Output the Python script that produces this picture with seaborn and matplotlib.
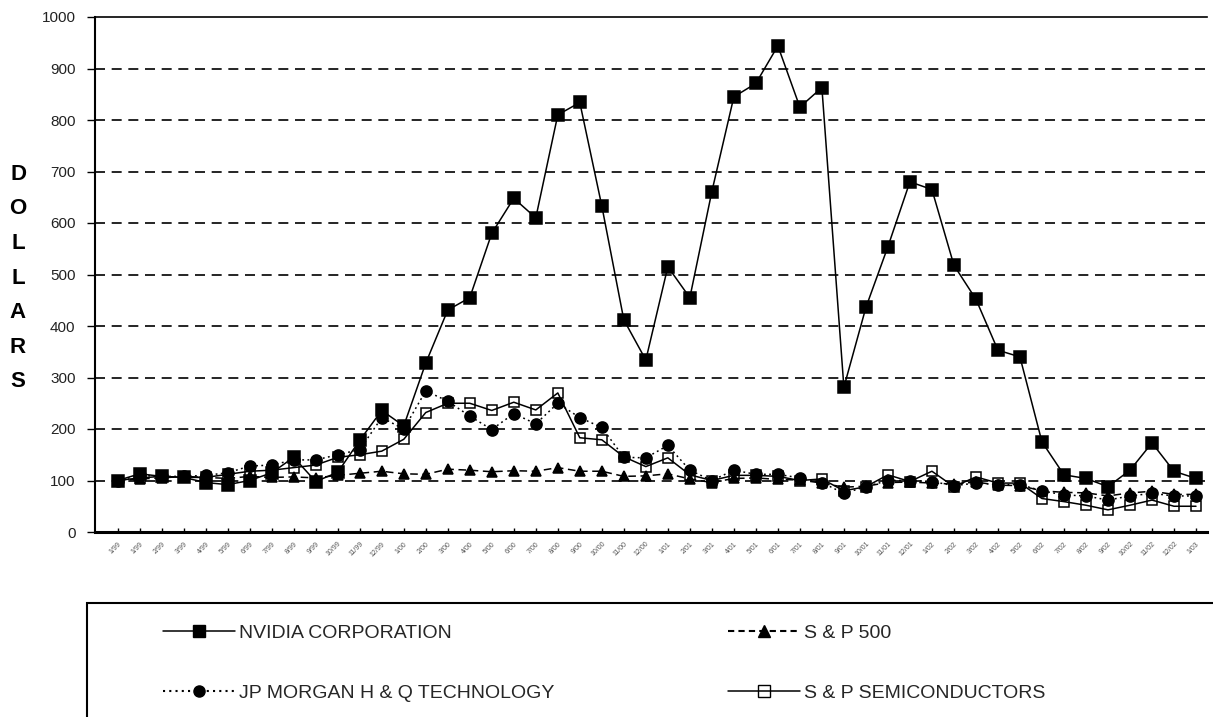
import numpy as np
import pandas as pd
import matplotlib
matplotlib.use("Agg")
import matplotlib.pyplot as plt
import seaborn as sns
from matplotlib.lines import Line2D
from matplotlib.patches import Rectangle

# ---------------- data ----------------
months = ["1/99", "1/99", "2/99", "3/99", "4/99", "5/99", "6/99", "7/99", "8/99", "9/99",
          "10/99", "11/99", "12/99", "1/00", "2/00", "3/00", "4/00", "5/00", "6/00", "7/00",
          "8/00", "9/00", "10/00", "11/00", "12/00", "1/01", "2/01", "3/01", "4/01", "5/01",
          "6/01", "7/01", "8/01", "9/01", "10/01", "11/01", "12/01", "1/02", "2/02", "3/02",
          "4/02", "5/02", "6/02", "7/02", "8/02", "9/02", "10/02", "11/02", "12/02", "1/03"]

nvidia = [100, 113, 108, 106, 96, 92, 100, 115, 145, 98,
          116, 178, 236, 206, 328, 431, 455, 580, 648, 610,
          810, 834, 633, 412, 334, 515, 455, 661, 845, 871,
          944, 825, 863, 281, 436, 554, 680, 665, 518, 452,
          353, 340, 175, 111, 104, 88, 120, 173, 118, 104]

sp500 = [100, 103, 105, 108, 106, 104, 108, 106, 107, 105,
         110, 114, 118, 113, 112, 122, 120, 117, 119, 118,
         125, 118, 118, 108, 109, 113, 103, 96, 104, 105,
         102, 101, 95, 87, 89, 96, 97, 95, 93, 97,
         91, 90, 80, 77, 76, 70, 76, 79, 73, 73]

jpmorgan = [100, 110, 108, 108, 110, 115, 128, 130, 140, 140,
            150, 160, 222, 200, 274, 254, 225, 199, 230, 210,
            250, 222, 203, 145, 144, 168, 120, 100, 120, 112,
            112, 105, 96, 75, 88, 100, 100, 98, 90, 95,
            92, 92, 80, 72, 70, 62, 70, 75, 70, 70]

semis = [100, 105, 108, 106, 106, 112, 118, 120, 125, 130,
         145, 150, 157, 180, 232, 250, 250, 236, 252, 237,
         270, 183, 179, 146, 127, 144, 111, 100, 110, 110,
         108, 100, 103, 80, 88, 111, 98, 118, 88, 107,
         95, 95, 65, 59, 52, 43, 52, 62, 50, 50]

series_names = ["NVIDIA CORPORATION", "S & P 500", "JP MORGAN H & Q TECHNOLOGY", "S & P SEMICONDUCTORS"]

# ---------------- figure ----------------
sns.set_theme(style="white")
plt.rcParams["font.family"] = ["Liberation Sans", "DejaVu Sans"]

W, H = 1213, 717
fig = plt.figure(figsize=(W / 100, H / 100), dpi=100)
fig.patch.set_facecolor("white")
ax = fig.add_axes([95 / W, 1 - 532 / H, (1207 - 95) / W, (532 - 17) / H])
ax.set_facecolor("white")

x = np.arange(len(months))
df = pd.DataFrame({"idx": x, "nvidia": nvidia, "sp500": sp500,
                   "jpm": jpmorgan, "semis": semis})

styles = {
    "nvidia": dict(marker="s", markersize=9, linestyle="-", markerfacecolor="black", zorder=2),
    "sp500": dict(marker="^", markersize=7.5, linestyle=(0, (5, 3)), markerfacecolor="black", zorder=3),
    "jpm": dict(marker="o", markersize=8, linestyle=(0, (1.2, 2.2)), markerfacecolor="black", zorder=4),
    "semis": dict(marker="s", markersize=7.5, linestyle="-", markerfacecolor="none", zorder=5),
}

for col, st in styles.items():
    sns.lineplot(data=df, x="idx", y=col, ax=ax, color="black", linewidth=1.1,
                 markeredgecolor="black", markeredgewidth=1.1, legend=False, **st)

# axes
ax.set_xlim(-1.03, 49.5)
ax.set_ylim(0, 1000)
ax.set_yticks(np.arange(0, 1001, 100))
ax.set_yticklabels([str(v) for v in range(0, 1001, 100)], fontsize=11, color="#222222")
ax.set_xticks(x)
ax.set_xticklabels(months, rotation=45, ha="right", rotation_mode="anchor",
                   fontsize=5, color="#555555")
ax.set_xlabel("")
ax.set_ylabel("")

for v in range(100, 1000, 100):
    ax.axhline(v, color="black", linewidth=1.2, linestyle=(0, (6, 4)), zorder=1)

for side in ["left", "bottom", "top"]:
    ax.spines[side].set_visible(True)
    ax.spines[side].set_color("black")
ax.spines["left"].set_linewidth(1.5)
ax.spines["bottom"].set_linewidth(2.2)
ax.spines["top"].set_linewidth(1.2)
ax.spines["right"].set_visible(False)

ax.tick_params(axis="y", direction="out", length=6, width=1, color="black", pad=8, left=True)
ax.tick_params(axis="x", direction="in", length=3, width=1, color="black", pad=6, bottom=True)

# y-axis label: stacked letters
fig.text(18 / W, 1 - 278 / H, "D\nO\nL\nL\nA\nR\nS", ha="center", va="center",
         fontsize=16, fontweight="bold", linespacing=1.85, color="black")

# ---------------- legend ----------------
handles = [
    Line2D([], [], color="black", lw=1.1, marker="s", markersize=9, linestyle="-",
           markerfacecolor="black", markeredgecolor="black"),
    Line2D([], [], color="black", lw=1.5, marker="^", markersize=8, linestyle=(0, (3, 2)),
           markerfacecolor="black", markeredgecolor="black"),
    Line2D([], [], color="black", lw=1.5, marker="o", markersize=8, linestyle=(0, (1, 2)),
           markerfacecolor="black", markeredgecolor="black"),
    Line2D([], [], color="black", lw=1.1, marker="s", markersize=8, linestyle="-",
           markerfacecolor="none", markeredgecolor="black"),
]

leg_kw = dict(loc="upper left", frameon=False, fontsize=14, handlelength=3.7,
              handletextpad=0.2, labelspacing=2.2, borderpad=0, borderaxespad=0)
leg1 = fig.legend([handles[0], handles[2]], [series_names[0], series_names[2]],
                  bbox_to_anchor=(163 / W, 1 - 624 / H), **leg_kw)
leg2 = fig.legend([handles[1], handles[3]], [series_names[1], series_names[3]],
                  bbox_to_anchor=(728 / W, 1 - 624 / H), **leg_kw)

fig.add_artist(Rectangle((87 / W, -0.05), 1.0, (717 - 603) / H + 0.05,
                         transform=fig.transFigure, fill=False, edgecolor="black",
                         linewidth=1.5, clip_on=False))

fig.savefig("out.png", dpi=100, facecolor="white")
